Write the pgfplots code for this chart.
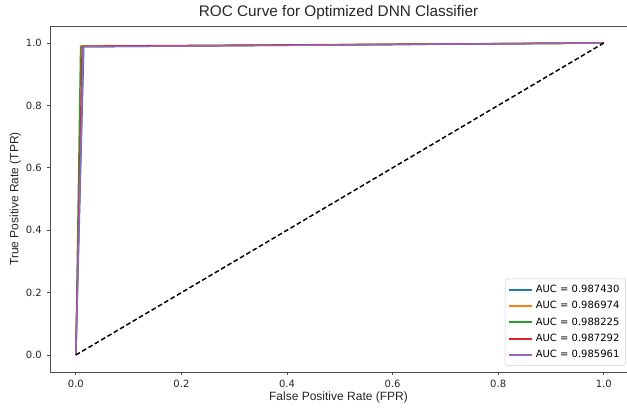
\documentclass[border=0pt]{standalone}
\usepackage{fontspec}
\setmainfont{DejaVu Sans}
\newfontfamily\labelfont{Liberation Sans}
\usepackage{pgfplots}
\pgfplotsset{compat=1.18}
\definecolor{tabblue}{HTML}{1F77B4}
\definecolor{taborange}{HTML}{FF7F0E}
\definecolor{tabgreen}{HTML}{2CA02C}
\definecolor{tabred}{HTML}{D62728}
\definecolor{tabpurple}{HTML}{9467BD}
\begin{document}
\begin{tikzpicture}
\begin{axis}[
  name=ax,
  scale only axis,
  width=432.75pt, height=259.5pt,
  xmin=-0.049, xmax=1.044,
  ymin=-0.0545, ymax=1.0545,
  xtick={0,0.2,0.4,0.6,0.8,1.0},
  ytick={0,0.2,0.4,0.6,0.8,1.0},
  xtick pos=left, ytick pos=left,
  tick align=outside,
  major tick length=2.6pt,
  every tick/.style={black!70, line width=0.6pt},
  axis line style={black!70, line width=0.6pt},
  /pgf/number format/.cd, fixed, fixed zerofill, precision=1, assume math mode=true,
  /pgfplots/.cd,
  tick label style={font=\fontsize{7.5}{9}\selectfont, text=black!85},
  title={ROC Curve for Optimized DNN Classifier},
  title style={font=\labelfont\fontsize{11.5}{13}\selectfont, text=black!85, yshift=-5pt},
  xlabel={False Positive Rate (FPR)},
  ylabel={True Positive Rate (TPR)},
  label style={font=\labelfont\fontsize{9}{10.5}\selectfont, text=black!85},
  xlabel style={yshift=4pt},
  ylabel style={yshift=-3pt},
  legend cell align=left,
  legend style={at={(rel axis cs:1,0)}, anchor=south east, xshift=-1pt, yshift=4.5pt,
    font=\fontsize{7.5}{9}\selectfont, draw=black!20, rounded corners=2pt,
    row sep=1.2pt, inner sep=2.5pt},
  legend image post style={line width=1.4pt, sharp corners},
]
\addplot[tabblue, line width=1.1pt] coordinates {(0,0) (0.015,0.988) (1,1)};
\addlegendentry{AUC = 0.987430}
\addplot[taborange, line width=1.1pt] coordinates {(0,0) (0.013,0.989) (1,1)};
\addlegendentry{AUC = 0.986974}
\addplot[tabgreen, line width=1.1pt] coordinates {(0,0) (0.009,0.989) (1,1)};
\addlegendentry{AUC = 0.988225}
\addplot[tabred, line width=1.1pt] coordinates {(0,0) (0.012,0.990) (1,1)};
\addlegendentry{AUC = 0.987292}
\addplot[tabpurple, line width=1.1pt] coordinates {(0,0) (0.014,0.988) (1,1)};
\addlegendentry{AUC = 0.985961}
\addplot[black, line width=1.1pt, dash pattern=on 3.5pt off 2pt, forget plot] coordinates {(0,0) (1,1)};
\end{axis}
\pgfresetboundingbox
\path ([xshift=-37.5pt,yshift=-27.75pt]ax.south west) rectangle ([yshift=19.5pt]ax.north east);
\end{tikzpicture}
\end{document}
